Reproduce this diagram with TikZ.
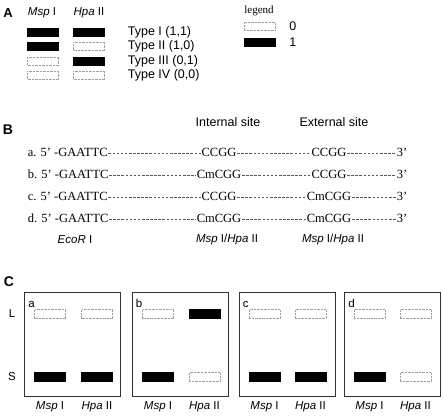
\documentclass[tikz,border=0pt]{standalone}
\usepackage{fontspec}
\setmainfont{Liberation Serif}
\setsansfont{Liberation Sans}
\usetikzlibrary{positioning}

\begin{document}
\begin{tikzpicture}[
			x=1pt, y=-1pt,
			every node/.style={
					inner sep=0pt,
					font=\sffamily\fontsize{11.5}{13}\selectfont
				},
			panel/.style={font=\sffamily\bfseries\fontsize{14}{16}\selectfont},
			biglab/.style={font=\sffamily\fontsize{12.5}{14}\selectfont},
			bandon/.style={draw=black, fill=black, minimum width=31pt, minimum height=9pt},
			bandoff/.style={draw=gray!75, densely dotted, fill=white, minimum width=31pt, minimum height=9pt},
			seq/.style={
					font=\rmfamily\fontsize{12.5}{14}\selectfont,
					inner sep=0.6pt,
					text height=1.6ex,
					text depth=0.2ex
				},
			link/.style={black!65, line width=0.6pt, dash pattern=on 2.6pt off 1.5pt},
			gel/.style={draw=black!80, line width=0.8pt, minimum width=96pt, minimum height=104pt}
		]

		\useasboundingbox (0,0) rectangle (444,417);

		% panel A
		\node[panel, font=\sffamily\bfseries\fontsize{13}{15}\selectfont] (A) at (8,13) {A};
		\node (mspA) at (42,13) {\textit{Msp} I};
		\node (hpaA) at (89,13) {\textit{Hpa} II};

		\node[bandon, minimum height=8pt] (t1m) at (43,32) {};
		\node[bandon, minimum height=8pt] (t1h) at (89,32) {};
		\node[biglab] (t1) [right=23pt of t1h] {Type I (1,1)};

		\node[bandon, minimum height=8pt] (t2m) at (43,46.5) {};
		\node[bandoff, minimum height=8pt] (t2h) at (89,46.5) {};
		\node[biglab] (t2) [right=23pt of t2h] {Type II (1,0)};

		\node[bandoff, minimum height=8pt] (t3m) at (43,61) {};
		\node[bandon, minimum height=8pt] (t3h) at (89,61) {};
		\node[biglab] (t3) [right=23pt of t3h] {Type III (0,1)};

		\node[bandoff, minimum height=8pt] (t4m) at (43,75.5) {};
		\node[bandoff, minimum height=8pt] (t4h) at (89,75.5) {};
		\node[biglab] (t4) [right=23pt of t4h] {Type IV (0,0)};

		% legend
		\node[font=\rmfamily\fontsize{11}{12}\selectfont] (leg) at (259,11) {legend};
		\node[bandoff, minimum height=8pt] (leg0) at (259.5,26) {};
		\node[biglab] (l0) [right=14pt of leg0] {0};
		\node[bandon, minimum height=8pt] (leg1) at (259.5,42.5) {};
		\node[biglab] (l1) [right=14pt of leg1] {1};

		% panel B
		\node[panel] (B) at (8,130) {B};
		\node[biglab] (intl) at (228,122) {Internal site};
		\node[biglab] (extl) at (334,122) {External site};

		\node[seq, anchor=west] (a5) at (27,153) {a. 5’\ -GAATTC};
		\node[seq] (ai) at (219,153) {CCGG};
		\node[seq] (ae) at (329,153) {CCGG};
		\node[seq, anchor=east] (a3) at (408,153) {3’};
		\draw[link] (a5) -- (ai);
		\draw[link] (ai) -- (ae);
		\draw[link] (ae) -- (a3);

		\node[seq, anchor=west] (b5) at (27,175) {b. 5’\ -GAATTC};
		\node[seq] (bi) at (219,175) {CmCGG};
		\node[seq] (be) at (329,175) {CCGG};
		\node[seq, anchor=east] (b3) at (408,175) {3’};
		\draw[link] (b5) -- (bi);
		\draw[link] (bi) -- (be);
		\draw[link] (be) -- (b3);

		\node[seq, anchor=west] (c5) at (27,197) {c. 5’\ -GAATTC};
		\node[seq] (ci) at (219,197) {CCGG};
		\node[seq] (ce) at (329,197) {CmCGG};
		\node[seq, anchor=east] (c3) at (408,197) {3’};
		\draw[link] (c5) -- (ci);
		\draw[link] (ci) -- (ce);
		\draw[link] (ce) -- (c3);

		\node[seq, anchor=west] (d5) at (27,219) {d. 5’\ -GAATTC};
		\node[seq] (di) at (219,219) {CmCGG};
		\node[seq] (de) at (329,219) {CmCGG};
		\node[seq, anchor=east] (d3) at (408,219) {3’};
		\draw[link] (d5) -- (di);
		\draw[link] (di) -- (de);
		\draw[link] (de) -- (d3);

		\node (ecor) at (75,240) {\textit{EcoR} I};
		\node (mhi) at (227,240) {\textit{Msp} I/\textit{Hpa} II};
		\node (mhe) at (333,240) {\textit{Msp} I/\textit{Hpa} II};

		% panel C
		\node[panel] (C) at (9,282) {C};
		\node (L) at (12,314) {L};
		\node (S) at (12,377) {S};

		\node[gel] (ga) at (72.5,344.5) {};
		\node[gel] (gb) at (180,344.5) {};
		\node[gel] (gc) at (287,344.5) {};
		\node[gel] (gd) at (392.5,344.5) {};

		\node[anchor=base west] (la) at ([shift={(4pt,-15pt)}]ga.north west) {a};
		\node[anchor=base west] (lb) at ([shift={(4pt,-15pt)}]gb.north west) {b};
		\node[anchor=base west] (lc) at ([shift={(4pt,-15pt)}]gc.north west) {c};
		\node[anchor=base west] (ld) at ([shift={(4pt,-15pt)}]gd.north west) {d};

		\node[bandoff] (aLm) at (50,314) {};
		\node[bandoff] (aLh) at (97,314) {};
		\node[bandon] (aSm) at (50,377) {};
		\node[bandon] (aSh) at (97,377) {};

		\node[bandoff] (bLm) at (158,314) {};
		\node[bandon] (bLh) at (204.5,314) {};
		\node[bandon] (bSm) at (158,377) {};
		\node[bandoff] (bSh) at (204.5,377) {};

		\node[bandoff] (cLm) at (264.5,314) {};
		\node[bandoff] (cLh) at (310.5,314) {};
		\node[bandon] (cSm) at (264.5,377) {};
		\node[bandon] (cSh) at (310.5,377) {};

		\node[bandoff] (dLm) at (369.5,314) {};
		\node[bandoff] (dLh) at (415.5,314) {};
		\node[bandon] (dSm) at (369.5,377) {};
		\node[bandoff] (dSh) at (415.5,377) {};

		\node (am) at (50,407) {\textit{Msp} I};
		\node (ah) at (97,407) {\textit{Hpa} II};
		\node (bm) at (158,407) {\textit{Msp} I};
		\node (bh) at (204.5,407) {\textit{Hpa} II};
		\node (cm) at (264.5,407) {\textit{Msp} I};
		\node (ch) at (310.5,407) {\textit{Hpa} II};
		\node (dm) at (369.5,407) {\textit{Msp} I};
		\node (dh) at (415.5,407) {\textit{Hpa} II};

	\end{tikzpicture}
\end{document}
